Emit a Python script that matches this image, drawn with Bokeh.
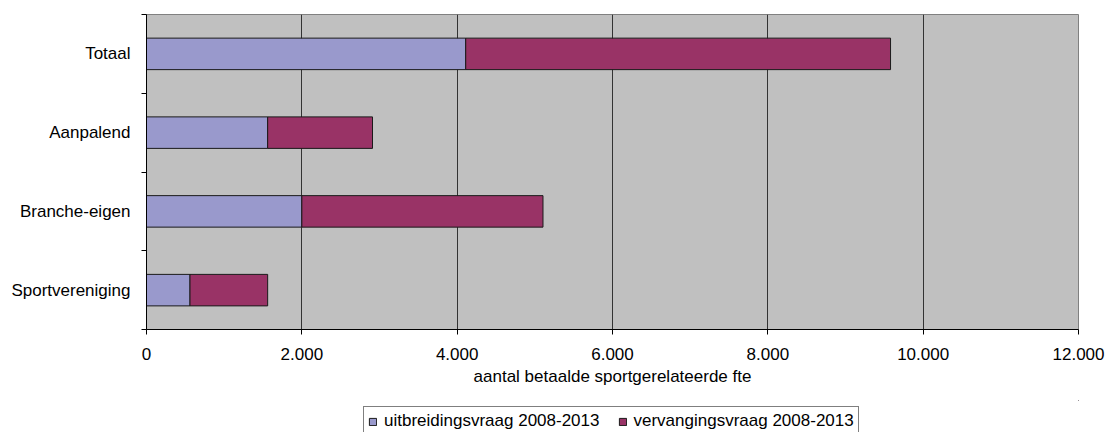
from bokeh.plotting import figure
from bokeh.layouts import column
from bokeh.models import (ColumnDataSource, FixedTicker, Legend, LegendItem, Range1d)
from bokeh.embed import file_html
from bokeh.resources import INLINE

categories = ["Sportvereniging", "Branche-eigen", "Aanpalend", "Totaal"]
uitbreiding = [560, 2000, 1560, 4110]
vervanging = [1000, 3105, 1350, 5470]
x_ticks = [0, 2000, 4000, 6000, 8000, 10000, 12000]
x_tick_labels = ["0", "2.000", "4.000", "6.000", "8.000", "10.000", "12.000"]
series_names = ["uitbreidingsvraag 2008-2013", "vervangingsvraag 2008-2013"]

FONT = "Liberation Sans"
FS = "17px"
C1 = "#9999CC"
C2 = "#993366"
EDGE = "#1a1a1a"

ypos = [i + 0.5 for i in range(len(categories))]
left2 = list(uitbreiding)
right2 = [a + b for a, b in zip(uitbreiding, vervanging)]
src = ColumnDataSource(dict(y=ypos, u=uitbreiding, l2=left2, r2=right2))

p = figure(width=1107, height=400, output_backend="svg", toolbar_location=None,
           x_range=Range1d(0, 12000), y_range=Range1d(0, len(categories)),
           min_border_left=146, min_border_right=29, min_border_top=14,
           min_border_bottom=71)
p.background_fill_color = "#C0C0C0"
p.border_fill_color = "white"
p.outline_line_color = "#808080"
p.outline_line_width = 1

r1 = p.hbar(y="y", left=0, right="u", height=0.4, source=src,
            fill_color=C1, line_color=EDGE, line_width=1)
r2 = p.hbar(y="y", left="l2", right="r2", height=0.4, source=src,
            fill_color=C2, line_color=EDGE, line_width=1)

# x axis
p.xaxis.ticker = FixedTicker(ticks=x_ticks)
p.xaxis.major_label_overrides = {t: s for t, s in zip(x_ticks, x_tick_labels)}
p.xaxis.axis_label = "aantal betaalde sportgerelateerde fte"
p.xaxis.axis_label_text_font = FONT
p.xaxis.axis_label_text_font_style = "normal"
p.xaxis.axis_label_text_font_size = FS
p.xaxis.axis_label_text_color = "black"
p.xaxis.axis_label_standoff = 4
p.xaxis.major_label_text_font = FONT
p.xaxis.major_label_text_font_size = FS
p.xaxis.major_label_text_color = "black"
p.xaxis.major_label_standoff = 13
p.xaxis.major_tick_out = 5
p.xaxis.major_tick_in = 0
p.xaxis.minor_tick_out = 0
p.xaxis.minor_tick_in = 0
p.xaxis.axis_line_color = "black"
p.xaxis.major_tick_line_color = "black"

# y axis
p.yaxis.ticker = FixedTicker(ticks=ypos, minor_ticks=[0, 1, 2, 3, 4])
p.yaxis.major_label_overrides = {y: c for y, c in zip(ypos, categories)}
p.yaxis.major_label_text_font = FONT
p.yaxis.major_label_text_font_size = FS
p.yaxis.major_label_text_color = "black"
p.yaxis.major_label_standoff = 11
p.yaxis.major_tick_out = 0
p.yaxis.major_tick_in = 0
p.yaxis.minor_tick_out = 5
p.yaxis.minor_tick_in = 0
p.yaxis.minor_tick_line_color = "black"
p.yaxis.axis_line_color = "black"

p.xgrid.ticker = FixedTicker(ticks=x_ticks)
p.xgrid.grid_line_color = "#333333"
p.xgrid.grid_line_width = 1
p.ygrid.grid_line_color = None

# legend strip below the chart (its frame is aligned with the chart frame)
p2 = figure(width=1107, height=32, output_backend="svg", toolbar_location=None,
            x_range=Range1d(0, 1), y_range=Range1d(0, 1),
            x_axis_type=None, y_axis_type=None, min_border=0)
p2.outline_line_color = None
p2.grid.grid_line_color = None
p2.background_fill_color = "white"
p2.border_fill_color = "white"
hidden = ColumnDataSource(dict(y=[100], l=[100], r=[101]))
g1 = p2.hbar(y="y", left="l", right="r", height=0.4, source=hidden,
             fill_color=C1, line_color=EDGE, line_width=1)
g2 = p2.hbar(y="y", left="l", right="r", height=0.4, source=hidden,
             fill_color=C2, line_color=EDGE, line_width=1)

legend = Legend(items=[LegendItem(label=series_names[0], renderers=[g1]),
                       LegendItem(label=series_names[1], renderers=[g2])],
                orientation="horizontal", location=(217, -4),
                label_text_font=FONT, label_text_font_size=FS,
                label_text_color="black",
                glyph_width=9, glyph_height=9, label_standoff=7, spacing=18,
                padding=4, margin=0, label_height=20,
                border_line_color="black", border_line_width=1,
                background_fill_color="white")
p2.add_layout(legend, "center")

layout = column(p, p2, spacing=0)
open("out.html", "w").write(file_html(layout, INLINE))
